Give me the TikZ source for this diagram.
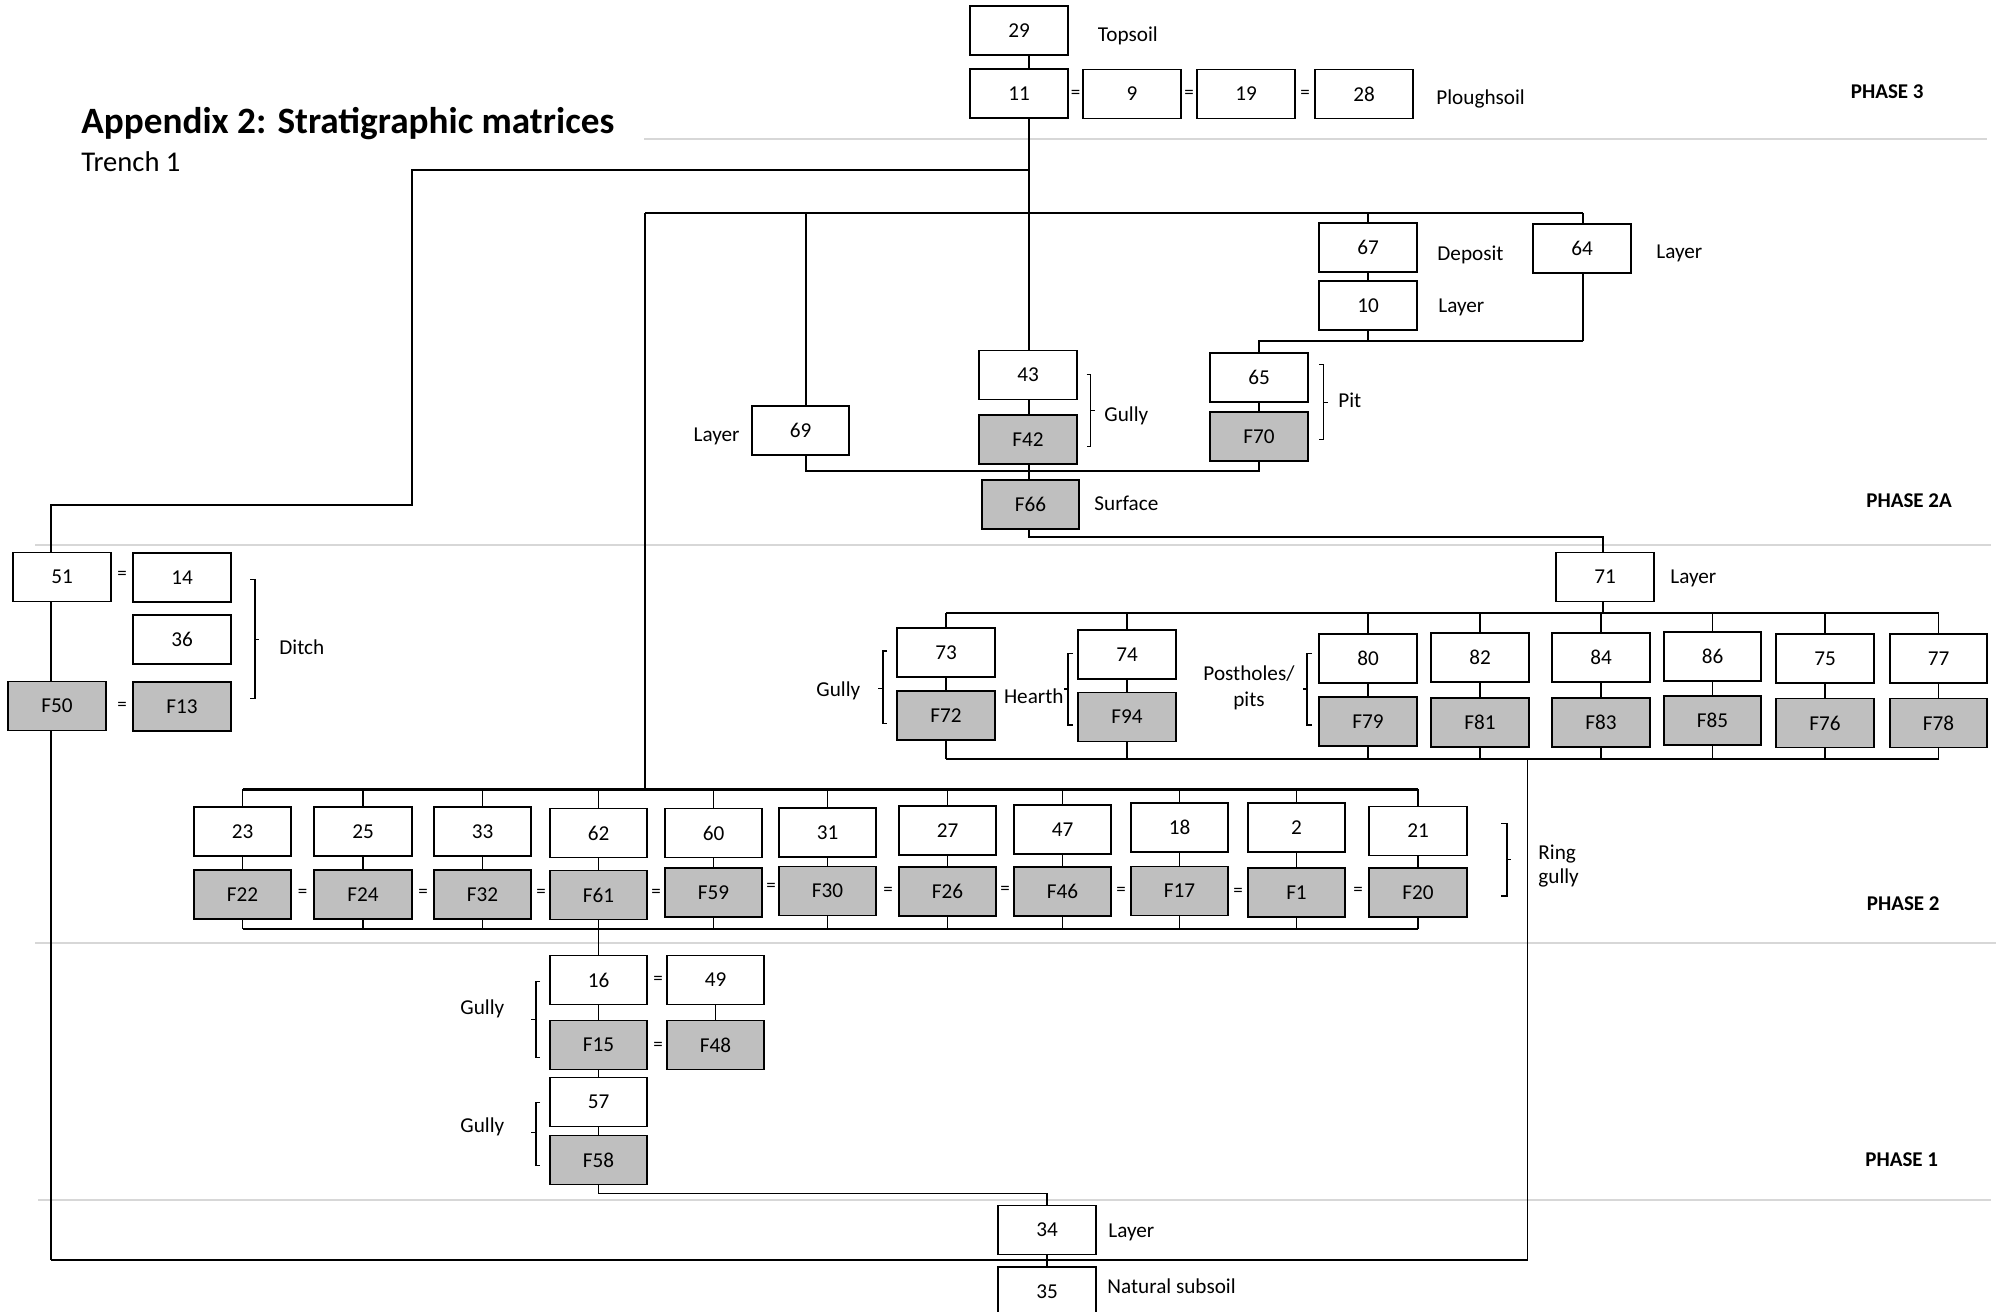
\documentclass[tikz,border=0pt]{standalone}
\usepackage{fontspec}
\setmainfont{Carlito}
\definecolor{boxgray}{RGB}{191,191,191}
\definecolor{sepgray}{RGB}{215,215,215}
\newcommand\dgLbl{\fontsize{10.6}{12}\selectfont}
\newcommand\dgPh{\fontsize{10.5}{12}\selectfont\bfseries}
\newcommand\dgTitle{\fontsize{18.6}{21}\selectfont\bfseries}
\newcommand\dgSub{\fontsize{14.3}{17}\selectfont}
\newcommand\dgEq{\fontsize{9.5}{11}\selectfont}
\tikzset{
  ubox/.style={draw=black, line width=0.85pt, fill=white, minimum width=48.75pt, minimum height=24.5pt, inner sep=0pt, font=\dgLbl},
  gbox/.style={ubox, fill=boxgray},
  lab/.style={anchor=base west, inner sep=0pt, font=\dgLbl},
  labc/.style={anchor=base, inner sep=0pt, font=\dgLbl},
  phase/.style={anchor=base west, inner sep=0pt, font=\dgPh},
  eqs/.style={inner sep=0pt, font=\dgEq},
  cthin/.style={line width=0.7pt},
  cmed/.style={line width=0.95pt},
  cthick/.style={line width=1.25pt},
  sepline/.style={line width=1.4pt, draw=sepgray},
  brk/.style={line width=0.7pt},
}
\begin{document}
\begin{tikzpicture}[x=0.5pt, y=-0.5pt]
\useasboundingbox (0,0) rectangle (1999,1312);
\clip (0,0) rectangle (1999,1312);
\fill[white] (0,0) rectangle (1999,1312);

% phase separators
\draw[sepline] (644,139) -- (1987,139);
\draw[sepline] (35,545) -- (1991,545);
\draw[sepline] (35,943) -- (1996,943);
\draw[sepline] (38,1200) -- (1991,1200);

% title
\node[anchor=base west, inner sep=0pt, font=\dgTitle] (title) at (81,133) {Appendix 2: Stratigraphic matrices};
\node[anchor=base west, inner sep=0pt, font=\dgSub] (trench) at (81,171) {Trench 1};

% phase labels
\node[phase] (ph3) at (1850.5,98.6) {PHASE 3};
\node[phase] (ph2a) at (1866,507) {PHASE 2A};
\node[phase] (ph2) at (1866.5,910.7) {PHASE 2};
\node[phase] (ph1) at (1865,1166) {PHASE 1};

% ---------- boxes: phase 3
\node[ubox] (n29) at (1019,30.5) {29};
\node[ubox] (n11) at (1019,93.5) {11};
\node[ubox] (n9) at (1132,94) {9};
\node[ubox] (n19) at (1246,94) {19};
\node[ubox] (n28) at (1364,94) {28};
\node[eqs] (e1) at (1075.5,94) {=};
\node[eqs] (e2) at (1189,94) {=};
\node[eqs] (e3) at (1305,94) {=};
\node[lab] (lTop) at (1097.5,41) {Topsoil};
\node[lab] (lPl) at (1436,104.5) {Ploughsoil};

% ---------- phase 2A
\node[ubox] (n67) at (1368,247.5) {67};
\node[ubox] (n10) at (1368,305.5) {10};
\node[ubox] (n64) at (1582,248.5) {64};
\node[ubox] (n43) at (1028,375) {43};
\node[gbox] (f42) at (1028,439.5) {F42};
\node[ubox] (n65) at (1259,377.5) {65};
\node[gbox] (f70) at (1259,436.5) {F70};
\node[ubox] (n69) at (800.5,430.5) {69};
\node[gbox] (f66) at (1030.5,504.5) {F66};
\node[lab] (lDep) at (1437,260) {Deposit};
\node[lab] (lL10) at (1438,312) {Layer};
\node[lab] (lL64) at (1656,258) {Layer};
\node[lab] (lG43) at (1104,421.7) {Gully};
\node[lab] (lPit) at (1338,407) {Pit};
\node[anchor=base east, inner sep=0pt, font=\dgLbl] (lL69) at (740,441) {Layer};
\node[lab] (lSurf) at (1094,510.7) {Surface};

% ---------- phase 2 upper group
\node[ubox] (n71) at (1605,577) {71};
\node[lab] (lL71) at (1670,583) {Layer};
\node[ubox] (n73) at (946,652.5) {73};
\node[gbox] (f72) at (946,715.5) {F72};
\node[ubox] (n74) at (1127,654.5) {74};
\node[gbox] (f94) at (1127,717) {F94};
\node[ubox] (n80) at (1368,658.5) {80};
\node[gbox] (f79) at (1368,721.5) {F79};
\node[ubox] (n82) at (1480,657.5) {82};
\node[gbox] (f81) at (1480,722.5) {F81};
\node[ubox] (n84) at (1601,657.5) {84};
\node[gbox] (f83) at (1601,722.5) {F83};
\node[ubox] (n86) at (1712.5,656.5) {86};
\node[gbox] (f85) at (1712.5,720.5) {F85};
\node[ubox] (n75) at (1825,658.5) {75};
\node[gbox] (f76) at (1825,723) {F76};
\node[ubox] (n77) at (1938.5,658.5) {77};
\node[gbox] (f78) at (1938.5,723) {F78};
\node[lab] (lG73) at (816,696) {Gully};
\node[lab] (lHe) at (1003.6,703) {Hearth};
\node[labc] (lPo1) at (1249,680.7) {Postholes/};
\node[labc] (lPo2) at (1249,706.7) {pits};

% ---------- ditch
\node[ubox] (n51) at (62,577) {51};
\node[ubox] (n14) at (182,577.5) {14};
\node[ubox] (n36) at (182,639.5) {36};
\node[gbox] (f50) at (57,706) {F50};
\node[gbox] (f13) at (182,706.5) {F13};
\node[eqs] (e4) at (122,575.5) {=};
\node[eqs] (e5) at (122,706.5) {=};
\node[lab] (lDi) at (279,654) {Ditch};

% ---------- ring gully
\node[ubox] (n23) at (242.5,831.5) {23};
\node[gbox] (f22) at (242.5,894.5) {F22};
\node[ubox] (n25) at (363,831.5) {25};
\node[gbox] (f24) at (363,894.5) {F24};
\node[ubox] (n33) at (482.5,831.5) {33};
\node[gbox] (f32) at (482.5,894.5) {F32};
\node[ubox] (n62) at (598.5,833) {62};
\node[gbox] (f61) at (598.5,895) {F61};
\node[ubox] (n60) at (713.5,833) {60};
\node[gbox] (f59) at (713.5,892.5) {F59};
\node[ubox] (n31) at (827.5,832.5) {31};
\node[gbox] (f30) at (827.5,891) {F30};
\node[ubox] (n27) at (947.5,830.5) {27};
\node[gbox] (f26) at (947.5,891.5) {F26};
\node[ubox] (n47) at (1062.5,829.5) {47};
\node[gbox] (f46) at (1062.5,891.5) {F46};
\node[ubox] (n18) at (1179.5,827.5) {18};
\node[gbox] (f17) at (1179.5,891) {F17};
\node[ubox] (n2) at (1296.5,827.5) {2};
\node[gbox] (f1) at (1296.5,892.5) {F1};
\node[ubox] (n21) at (1418,831) {21};
\node[gbox] (f20) at (1418,892.5) {F20};
\node[eqs] (e6) at (302.5,893) {=};
\node[eqs] (e7) at (423,893) {=};
\node[eqs] (e8) at (541,893) {=};
\node[eqs] (e9) at (656,893) {=};
\node[eqs] (e10) at (771,887) {=};
\node[eqs] (e11) at (888,891) {=};
\node[eqs] (e12) at (1005,890) {=};
\node[eqs] (e13) at (1121,891) {=};
\node[eqs] (e14) at (1238,892) {=};
\node[eqs] (e15) at (1358,891) {=};
\node[lab] (lRi1) at (1538,859) {Ring};
\node[lab] (lRi2) at (1538,883.5) {gully};

% ---------- phase 1
\node[ubox] (n16) at (598.5,980) {16};
\node[gbox] (f15) at (598.5,1045) {F15};
\node[ubox] (n49) at (715.5,980) {49};
\node[gbox] (f48) at (715.5,1045) {F48};
\node[eqs] (e16) at (658,980) {=};
\node[eqs] (e17) at (658,1046) {=};
\node[ubox] (n57) at (598.5,1102) {57};
\node[gbox] (f58) at (598.5,1160) {F58};
\node[lab] (lG16) at (460,1014) {Gully};
\node[lab] (lG57) at (460,1132.3) {Gully};

% ---------- base
\node[ubox] (n34) at (1047,1230) {34};
\node[ubox] (n35) at (1047,1291.5) {35};
\node[lab] (lL34) at (1108,1237) {Layer};
\node[lab] (lNat) at (1107,1293) {Natural subsoil};

% ================= connectors
\coordinate (mv) at (1029,0);
\draw[cmed] (n29.south -| mv) -- (n11.north -| mv);
\draw[cthick] (n11.south -| mv) -- (n43.north -| mv);
\draw[cthin] (n43.south -| mv) -- (f42.north -| mv);
\draw[cthin] (f42.south -| mv) -- (f66.north -| mv);

% left branch to the ditch and down to the base
\coordinate (a1) at (1029,170);
\coordinate (a2) at (412,170);
\coordinate (a3) at (412,505);
\coordinate (a4) at (51,505);
\draw[cthick] (a1) -- (a2) -- (a3) -- (a4) -- (n51.north -| a4);
\draw[cthin] (n51.south -| a4) -- (f50.north -| a4);
\coordinate (b1) at (51,1260);
\coordinate (b2) at (1527.5,1260);
\coordinate (b3) at (1527.5,759);
\draw[cthin] (f50.south -| a4) -- (b1);
\draw[cthick] (b1) -- (b2);
\draw[cthin] (b2) -- (b3);

% branch at y=213
\coordinate (c1) at (645,213);
\coordinate (c2) at (1583,213);
\coordinate (r1) at (645,789.3);
\draw[cthick] (c1) -- (c2);
\draw[cthick] (c1) -- (r1);
\coordinate (c69) at (806,213);
\draw[cthin] (c69) -- (n69.north -| c69);
\coordinate (c67) at (1368,213);
\draw[cthin] (c67) -- (n67.north);
\draw[cthin] (n67) -- (n10);
\draw[cthin] (c2) -- (n64.north -| c2);
\coordinate (d1) at (1583,341);
\coordinate (d2) at (1368,341);
\coordinate (d3) at (1259,341);
\draw[cthin] (n64.south -| c2) -- (d1);
\draw[cthin] (n10.south) -- (d2);
\draw[cthick] (d1) -- (d3) -- (n65.north);
\draw[cthin] (n65) -- (f70);
\coordinate (g69a) at (1259,470.7);
\coordinate (g69b) at (806,470.7);
\draw[cmed] (f70.south) -- (g69a) -- (g69b) -- (n69.south -| g69b);

% F66 to 71
\coordinate (g1) at (1029,536.7);
\coordinate (g2) at (1603,536.7);
\coordinate (g3) at (1603,612.7);
\draw[cmed] (f66.south -| mv) -- (g1) -- (g2) -- (n71.north -| g2);
\draw[cmed] (n71.south -| g2) -- (g3);

% upper phase 2 group
\coordinate (htop) at (0,612.7);
\coordinate (hbot) at (0,759);
\draw[cmed] (n73.north |- htop) -- (n77.north |- htop);
\draw[cthick] (f72.south |- hbot) -- (f78.south |- hbot);
\foreach \a/\b in {n73/f72,n74/f94,n80/f79,n82/f81,n84/f83,n86/f85,n75/f76,n77/f78}{
  \draw[cthin] (\a.north |- htop) -- (\a.north);
  \draw[cthin] (\a) -- (\b);
  \draw[cthin] (\b.south) -- (\b.south |- hbot);
}

% ring gully group
\coordinate (rtop) at (0,789.3);
\coordinate (rbot) at (0,929.3);
\draw[cthick] (n23.north |- rtop) -- (n21.north |- rtop);
\draw[cmed] (f22.south |- rbot) -- (f20.south |- rbot);
\foreach \a/\b in {n23/f22,n25/f24,n33/f32,n62/f61,n60/f59,n31/f30,n27/f26,n47/f46,n18/f17,n2/f1,n21/f20}{
  \draw[cthin] (\a.north |- rtop) -- (\a.north);
  \draw[cthin] (\a) -- (\b);
  \draw[cthin] (\b.south) -- (\b.south |- rbot);
}

% phase 1
\draw[cthin] (f61.south |- rbot) -- (n16.north);
\draw[cthin] (n16) -- (f15);
\draw[cthin] (n49) -- (f48);
\draw[cthin] (f15) -- (n57);
\draw[cthin] (n57) -- (f58);
\coordinate (h1) at (598.5,1193.5);
\coordinate (h2) at (1047,1193.5);
\draw[cmed] (f58.south) -- (h1) -- (h2) -- (n34.north);
\draw[cthin] (n34) -- (n35);

% ================= brackets
% right-facing
\draw[brk] (1086.5,374.3) -- (1090.5,374.3) -- (1090.5,446.7) -- (1086.5,446.7);
\draw[brk] (1090.5,410.7) -- (1094.5,410.7);
\draw[brk] (1319,364.3) -- (1323.5,364.3) -- (1323.5,439.3) -- (1319,439.3);
\draw[brk] (1323.5,402.3) -- (1327.5,402.3);
\draw[brk] (250,579.3) -- (255,579.3) -- (255,698.3) -- (250,698.3);
\draw[brk] (255,639.3) -- (259,639.3);
\draw[brk] (1501,823.3) -- (1507,823.3) -- (1507,896) -- (1501,896);
\draw[brk] (1507,859.5) -- (1511,859.5);
% left-facing
\draw[brk] (887,651) -- (883,651) -- (883,723.3) -- (887,723.3);
\draw[brk] (883,688.3) -- (878,688.3);
\draw[brk] (1073,653.3) -- (1068,653.3) -- (1068,725) -- (1073,725);
\draw[brk] (1068,689) -- (1064,689);
\draw[brk] (1312,653.3) -- (1307,653.3) -- (1307,725) -- (1312,725);
\draw[brk] (1307,689) -- (1303,689);
\draw[brk] (540,981.7) -- (536,981.7) -- (536,1057.3) -- (540,1057.3);
\draw[brk] (536,1019.3) -- (531,1019.3);
\draw[brk] (540,1102.3) -- (536,1102.3) -- (536,1165.7) -- (540,1165.7);
\draw[brk] (536,1132.7) -- (531,1132.7);
\end{tikzpicture}
\end{document}
